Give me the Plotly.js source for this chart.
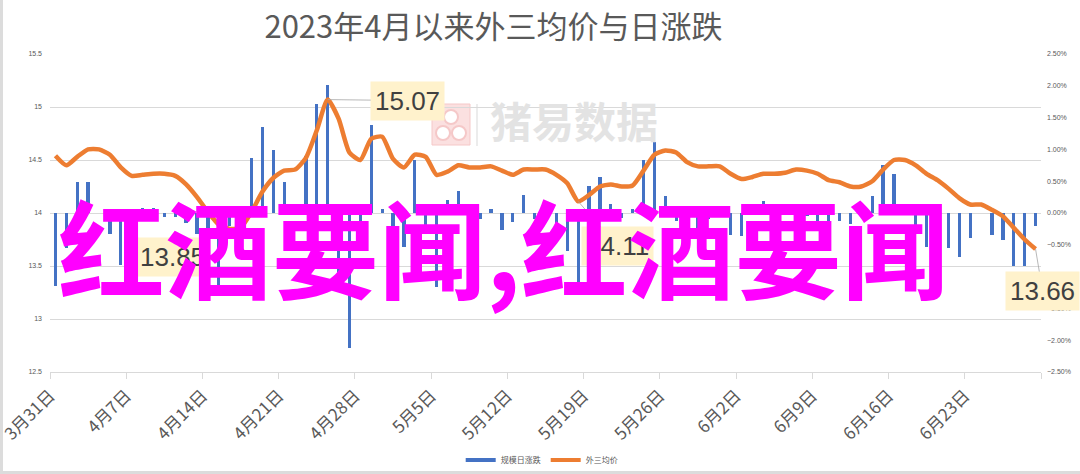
<!DOCTYPE html>
<html><head><meta charset="utf-8">
<script src="https://cdn.plot.ly/plotly-3.0.1.min.js"></script>
<style>
html,body{margin:0;padding:0;background:#dcdcdc;width:1080px;height:474px;overflow:hidden}
#chart{position:absolute;left:3px;top:0;width:1077px;height:471px;background:#fff}
</style>
</head><body><div id="chart"></div>
<script>
// ---- data ----
const dates = [
'2023-03-31',
'2023-04-01','2023-04-02','2023-04-03','2023-04-04','2023-04-05','2023-04-06','2023-04-07','2023-04-08','2023-04-09','2023-04-10',
'2023-04-11','2023-04-12','2023-04-13','2023-04-14','2023-04-15','2023-04-16','2023-04-17','2023-04-18','2023-04-19','2023-04-20',
'2023-04-21','2023-04-22','2023-04-23','2023-04-24','2023-04-25','2023-04-26','2023-04-27','2023-04-28','2023-04-29','2023-04-30',
'2023-05-01','2023-05-02','2023-05-03','2023-05-04','2023-05-05','2023-05-06','2023-05-07','2023-05-08','2023-05-09','2023-05-10',
'2023-05-11','2023-05-12','2023-05-13','2023-05-14','2023-05-15','2023-05-16','2023-05-17','2023-05-18','2023-05-19','2023-05-20',
'2023-05-21','2023-05-22','2023-05-23','2023-05-24','2023-05-25','2023-05-26','2023-05-27','2023-05-28','2023-05-29','2023-05-30',
'2023-05-31',
'2023-06-01','2023-06-02','2023-06-03','2023-06-04','2023-06-05','2023-06-06','2023-06-07','2023-06-08','2023-06-09','2023-06-10',
'2023-06-11','2023-06-12','2023-06-13','2023-06-14','2023-06-15','2023-06-16','2023-06-17','2023-06-18','2023-06-19','2023-06-20',
'2023-06-21','2023-06-22','2023-06-23','2023-06-24','2023-06-25','2023-06-26','2023-06-27','2023-06-28','2023-06-29'
];
// 外三均价 (元/kg), left axis
const avgPrice = [
14.54,14.45,14.53,14.60,14.60,14.55,14.43,14.35,14.36,14.37,
14.37,14.35,14.27,14.15,14.01,13.89,13.85,13.86,14.01,14.20,
14.33,14.40,14.41,14.52,14.78,15.07,14.89,14.57,14.50,14.70,
14.72,14.51,14.43,14.55,14.53,14.36,14.39,14.45,14.43,14.43,
14.44,14.40,14.36,14.41,14.41,14.41,14.36,14.28,14.11,14.17,
14.25,14.27,14.25,14.26,14.40,14.55,14.59,14.57,14.48,14.44,
14.44,14.44,14.37,14.32,14.34,14.37,14.37,14.38,14.41,14.40,
14.37,14.31,14.29,14.25,14.25,14.30,14.41,14.50,14.50,14.45,
14.37,14.31,14.23,14.14,14.08,14.08,14.03,13.97,13.86,13.75,
13.66];
// 规模日涨跌 (%), right axis
const dailyChange = [
-1.15,-0.55,0.49,0.49,0,-0.33,-0.82,-0.45,0.08,0.08,
-0.06,-0.06,-0.15,-0.33,-0.45,-1.14,-0.20,0.05,0.87,1.36,
0.99,0.49,0.05,0.90,1.72,2.02,-0.95,-2.13,-0.30,1.38,
0.07,-1.37,-0.53,0.83,-0.30,-1.16,0.20,0.35,-0.06,-0.10,
0.07,-0.27,-0.14,0.28,-0.10,-0.05,-0.15,-0.60,-1.25,0.42,
0.56,0.14,-0.08,0.06,0.83,1.11,0.26,-0.12,-0.30,-0.36,
-0.10,-0.05,-0.35,-0.36,0.05,0.19,0.02,0.05,0.10,-0.05,
-0.12,-0.12,-0.12,-0.18,-0.05,0.27,0.76,0.62,0,-0.20,
-0.54,-0.20,-0.55,-0.69,-0.40,0,-0.35,-0.42,-0.84,-0.84,
-0.20];
const tickDates = ['2023-03-31','2023-04-07','2023-04-14','2023-04-21','2023-04-28','2023-05-05','2023-05-12',
                   '2023-05-19','2023-05-26','2023-06-02','2023-06-09','2023-06-16','2023-06-23','2023-06-30'];
const tickLabels = ['3月31日','4月7日','4月14日','4月21日','4月28日','5月5日','5月12日',
                    '5月19日','5月26日','6月2日','6月9日','6月16日','6月23日',''];
const seriesNames = ['规模日涨跌','外三均价'];
const titleText = '2023年4月以来外三均价与日涨跌';
const labeledIdx = [16, 25, 48, 90];
const watermarkText = '猪易数据';
const overlayText = '红酒要闻,红酒要闻';

// ---- styles / positions ----
const xs = dates.map(d => d + ' 12:00');
const BLUE = '#4472c4', ORANGE = '#ed7d31', GRID = '#d9d9d9', TXT = '#595959';
const px = x => (x - 50) / 991;       // page px -> paper x
const py = y => (372 - y) / 318;      // page px -> paper y
const labelOffsets = {16: [-57, 28], 25: [80, 1], 48: [39, 45], 90: [7, 42]};

const traces = [
  {type: 'bar', x: xs, y: dailyChange, yaxis: 'y', marker: {color: BLUE},
   width: 0.3 * 86400000, name: seriesNames[0], showlegend: false, hoverinfo: 'skip'},
  {type: 'scatter', mode: 'lines', x: xs, y: avgPrice, yaxis: 'y2',
   line: {color: ORANGE, width: 4.5, shape: 'spline', smoothing: 0.6},
   name: seriesNames[1], showlegend: false},
  // legend entries
  {type: 'scatter', mode: 'lines', x: [null], y: [null], yaxis: 'y', name: seriesNames[0],
   line: {color: BLUE, width: 4}},
  {type: 'scatter', mode: 'lines', x: [null], y: [null], yaxis: 'y', name: seriesNames[1],
   line: {color: ORANGE, width: 4}}
];

const annotations = [];
annotations.push({xref: 'paper', yref: 'paper', x: px(574), y: py(120), xanchor: 'center', yanchor: 'middle',
  text: watermarkText, showarrow: false,
  font: {family: 'Noto Sans CJK SC', size: 42, color: '#e3e3e3', weight: 700}});
labeledIdx.forEach(i => {
  annotations.push({xref: 'x', yref: 'y2', x: xs[i], y: avgPrice[i],
    text: avgPrice[i].toFixed(2), showarrow: true, arrowhead: 0, arrowwidth: 0.8, arrowcolor: '#a6a6a6',
    ax: labelOffsets[i][0], ay: labelOffsets[i][1], standoff: 0,
    bgcolor: '#fff2cc', borderpad: 4,
    font: {family: 'Liberation Sans, Arial', size: 26, color: '#404040'}});
});
annotations.push({xref: 'paper', yref: 'paper', x: px(503.5), y: py(244), xanchor: 'center', yanchor: 'middle',
  text: overlayText, showarrow: false,
  font: {family: 'Noto Sans CJK SC', size: 107, color: '#ff00ff', weight: 700}});

const shapes = [
  {type: 'rect', xref: 'paper', yref: 'paper', x0: px(432), x1: px(470), y0: py(145), y1: py(104),
   fillcolor: '#fbe0e0', line: {color: '#f5c8c8', width: 1}, layer: 'below'},
  {type: 'circle', xref: 'paper', yref: 'paper', x0: px(444), x1: px(458), y0: py(124), y1: py(110),
   fillcolor: '#ffffff', line: {color: '#f5c8c8', width: 2}, layer: 'below'},
  {type: 'circle', xref: 'paper', yref: 'paper', x0: px(436), x1: px(450), y0: py(140), y1: py(126),
   fillcolor: '#ffffff', line: {color: '#f5c8c8', width: 2}, layer: 'below'},
  {type: 'circle', xref: 'paper', yref: 'paper', x0: px(452), x1: px(466), y0: py(140), y1: py(126),
   fillcolor: '#ffffff', line: {color: '#f5c8c8', width: 2}, layer: 'below'},
  {type: 'line', xref: 'paper', yref: 'paper', x0: px(477), x1: px(477), y0: py(146), y1: py(104),
   line: {color: '#e6e6e6', width: 1.5}, layer: 'below'}
];

const layout = {
  width: 1077, height: 471,
  margin: {l: 47, r: 39, t: 54, b: 99, autoexpand: false},
  paper_bgcolor: '#ffffff', plot_bgcolor: 'rgba(0,0,0,0)',
  font: {family: 'Noto Sans CJK SC, sans-serif', color: TXT},
  title: {text: titleText, x: 0.4554, xref: 'container', xanchor: 'center',
          y: 0.9427, yref: 'container', yanchor: 'middle', automargin: false,
          font: {family: 'Noto Sans CJK SC', size: 31, color: TXT}},
  showlegend: true,
  legend: {orientation: 'h', xref: 'container', yref: 'container',
           x: (541.7 - 3) / 1077, y: 1 - 460 / 471, xanchor: 'center', yanchor: 'middle',
           font: {size: 8, color: TXT}, itemwidth: 30, tracegroupgap: 0},
  bargap: 0,
  xaxis: {type: 'date', range: ['2023-03-31', '2023-06-30'], tickmode: 'array',
          tickvals: tickDates, ticktext: tickLabels, tickangle: -45, automargin: false,
          ticklabeloverflow: 'allow',
          tickfont: {family: 'Noto Sans CJK SC', size: 17, color: TXT},
          showgrid: false, showline: true, linecolor: GRID, linewidth: 1,
          ticks: 'outside', ticklen: 6, tickcolor: GRID, zeroline: false},
  yaxis: {side: 'right', range: [-2.5, 2.5], dtick: 0.5, tickformat: '.2f', ticksuffix: '%',
          showgrid: false, zeroline: false, showline: false, ticks: '', automargin: false,
          ticklabelstandoff: 5,
          tickfont: {family: 'Liberation Sans, Arial', size: 7, color: TXT}},
  yaxis2: {overlaying: 'y', side: 'left', range: [12.5, 15.5], dtick: 0.5, automargin: false,
           showgrid: true, gridcolor: GRID, gridwidth: 1, zeroline: false, showline: false, ticks: '',
           ticklabelstandoff: 7,
           tickfont: {family: 'Liberation Sans, Arial', size: 7, color: TXT}},
  annotations: annotations,
  shapes: shapes
};

Plotly.newPlot('chart', traces, layout, {displayModeBar: false, staticPlot: true});
</script>
</body></html>
